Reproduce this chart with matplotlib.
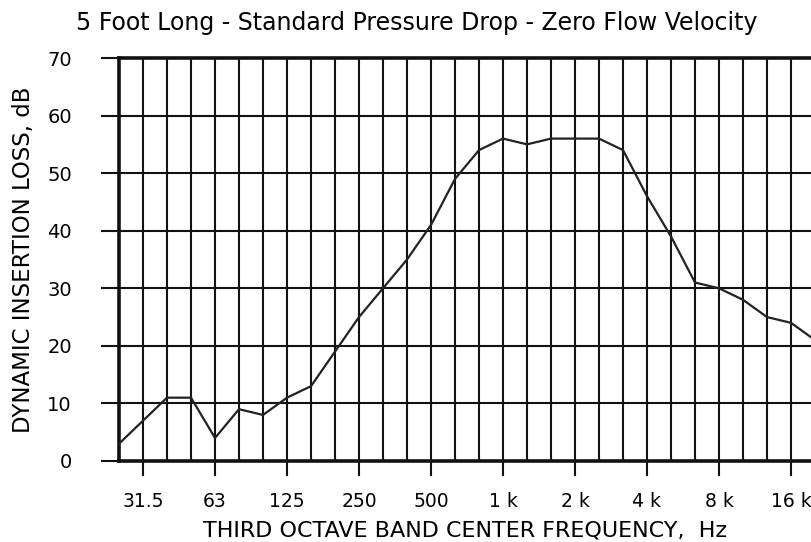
import numpy as np
import matplotlib
matplotlib.use("Agg")
import matplotlib.pyplot as plt

# third octave bands, 25 Hz .. 20 kHz
bands = ['25', '31.5', '40', '50', '63', '80', '100', '125', '160', '200',
         '250', '315', '400', '500', '630', '800', '1 k', '1.25 k', '1.6 k', '2 k',
         '2.5 k', '3.15 k', '4 k', '5 k', '6.3 k', '8 k', '10 k', '12.5 k', '16 k', '20 k']
insertion_loss = [3, 7, 11, 11, 4, 9, 8, 11, 13, 19,
                  25, 30, 35, 41, 49, 54, 56, 55, 56, 56,
                  56, 54, 46, 39, 31, 30, 28, 25, 24, 21]
octave_labels = ['31.5', '63', '125', '250', '500', '1 k', '2 k', '4 k', '8 k', '16 k']
y_ticks = [0, 10, 20, 30, 40, 50, 60, 70]

plt.rcParams['font.family'] = ['DejaVu Sans']

fig = plt.figure(figsize=(8.12, 5.42), dpi=100)
ax = fig.add_axes([119 / 812, 81 / 542, 693 / 812, 403 / 542])

pos = np.arange(len(bands))
ax.plot(pos, insertion_loss, color='#222222', linewidth=1.6, zorder=3)

ax.set_xlim(0, 693 / 24)
ax.set_ylim(0, 70)

# grid: one vertical line per band, horizontal every 10 dB
for x in pos[1:]:
    ax.axvline(x, color='#111111', linewidth=1.5, zorder=1)
for y in y_ticks[1:-1]:
    ax.axhline(y, color='#111111', linewidth=1.5, zorder=1)

octave_pos = [bands.index(b) for b in octave_labels]
ax.set_xticks(octave_pos)
ax.set_xticklabels(octave_labels, fontsize=13.5)
ax.set_yticks(y_ticks)
ax.set_yticklabels([str(v) for v in y_ticks], fontsize=14)
ax.tick_params(axis='x', length=11, width=1.5, pad=11, color='#111111')
ax.tick_params(axis='y', length=13, width=1.5, pad=21, color='#111111')

for side in ['left', 'bottom', 'top']:
    ax.spines[side].set_linewidth(2.6)
    ax.spines[side].set_color('#111111')
ax.spines['right'].set_visible(False)

ax.set_xlabel('THIRD OCTAVE BAND CENTER FREQUENCY,  Hz', fontsize=16, labelpad=7)
ax.set_ylabel('DYNAMIC INSERTION LOSS, dB', fontsize=16.5, labelpad=9)

fig.text(0.513, 0.957, '5 Foot Long - Standard Pressure Drop - Zero Flow Velocity',
         ha='center', va='center', fontsize=17)

fig.savefig('out.png', dpi=100)
